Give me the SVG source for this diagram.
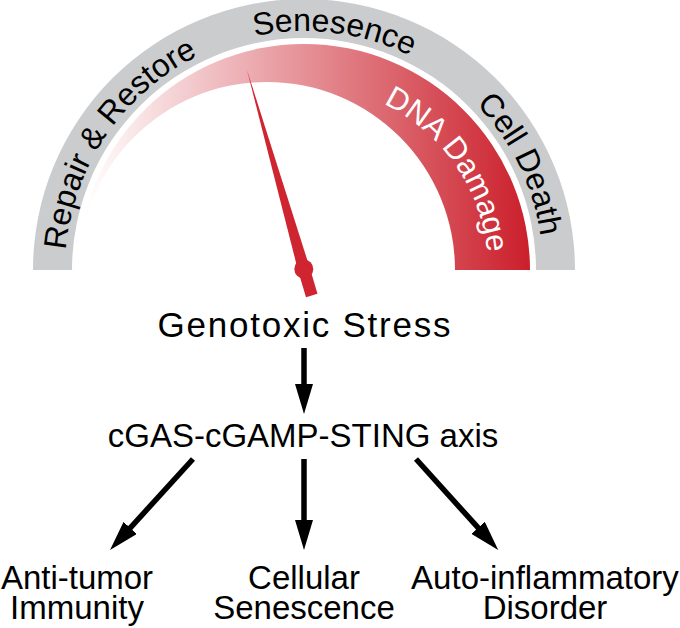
<svg xmlns="http://www.w3.org/2000/svg" width="680" height="628" viewBox="0 0 680 628">
  <style>
    text { font-family: "Liberation Sans", Arial, Helvetica, sans-serif; fill: #000; }
    .band { font-size: 32px; }
    .dna { font-size: 31px; fill: #fff; }
    .lbl { font-size: 33px; text-anchor: middle; }
    .conn { stroke: #000; stroke-width: 5.5; fill: none; marker-end: url(#head); }
  </style>
  <defs>
    <linearGradient id="redGrad" gradientUnits="userSpaceOnUse" x1="85" y1="0" x2="530" y2="0">
      <stop offset="0" stop-color="#ffffff"/>
      <stop offset="1" stop-color="#cb1f2b"/>
    </linearGradient>
    <marker id="head" viewBox="0 0 30 18" markerWidth="30" markerHeight="18" refX="10" refY="9" orient="auto" markerUnits="userSpaceOnUse">
      <path d="M0,0 L30,9 L0,18 Z" fill="#000"/>
    </marker>
    <path id="arcText" d="M65,270 A239,239 0 0 1 543,270"/>
    <path id="arcDNA" d="M120,270 A184,184 0 0 1 488,270"/>
  </defs>

  <g id="gauge">
    <path d="M33,270 A271,271 0 0 1 575,270 L536,270 A232,232 0 0 0 72,270 Z" fill="#cbccce"/>
    <path d="M78,270 A226,226 0 0 1 530,270 L455,270 A188,188 0 0 0 79,270 Z" fill="url(#redGrad)"/>
    <text class="band"><textPath href="#arcText" startOffset="142.7" text-anchor="middle">Repair &amp; Restore</textPath></text>
    <text class="band"><textPath href="#arcText" startOffset="405.5" text-anchor="middle">Senesence</textPath></text>
    <text class="band"><textPath href="#arcText" startOffset="642" text-anchor="middle">Cell Death</textPath></text>
    <text class="dna"><textPath href="#arcDNA" startOffset="465.6" text-anchor="middle">DNA Damage</textPath></text>
  </g>

  <g id="needle" fill="#cf2530">
    <polygon points="247,70 309.6,267.3 317.5,293.8 306,297.2 298.1,270.7"/>
    <circle cx="303.8" cy="269" r="9.5"/>
  </g>

  <g id="genotoxic">
    <text x="304" y="337" font-size="35" text-anchor="middle" textLength="293" lengthAdjust="spacing">Genotoxic Stress</text>
  </g>
  <g id="cgas">
    <text class="lbl" x="303" y="447">cGAS-cGAMP-STING axis</text>
  </g>
  <g id="antitumor">
    <text class="lbl" x="77" y="589">Anti-tumor</text>
    <text class="lbl" x="77" y="619">Immunity</text>
  </g>
  <g id="senescence">
    <text class="lbl" x="304" y="589">Cellular</text>
    <text class="lbl" x="304" y="619">Senescence</text>
  </g>
  <g id="autoinflammatory">
    <text class="lbl" x="545" y="589">Auto-inflammatory</text>
    <text class="lbl" x="545" y="619">Disorder</text>
  </g>

  <g id="connectors">
    <line class="conn" x1="304" y1="348" x2="304" y2="394"/>
    <line class="conn" x1="304" y1="459" x2="304" y2="530"/>
    <line class="conn" x1="193" y1="459" x2="123.5" y2="535.3"/>
    <line class="conn" x1="416" y1="459" x2="484.8" y2="535.2"/>
  </g>
</svg>
